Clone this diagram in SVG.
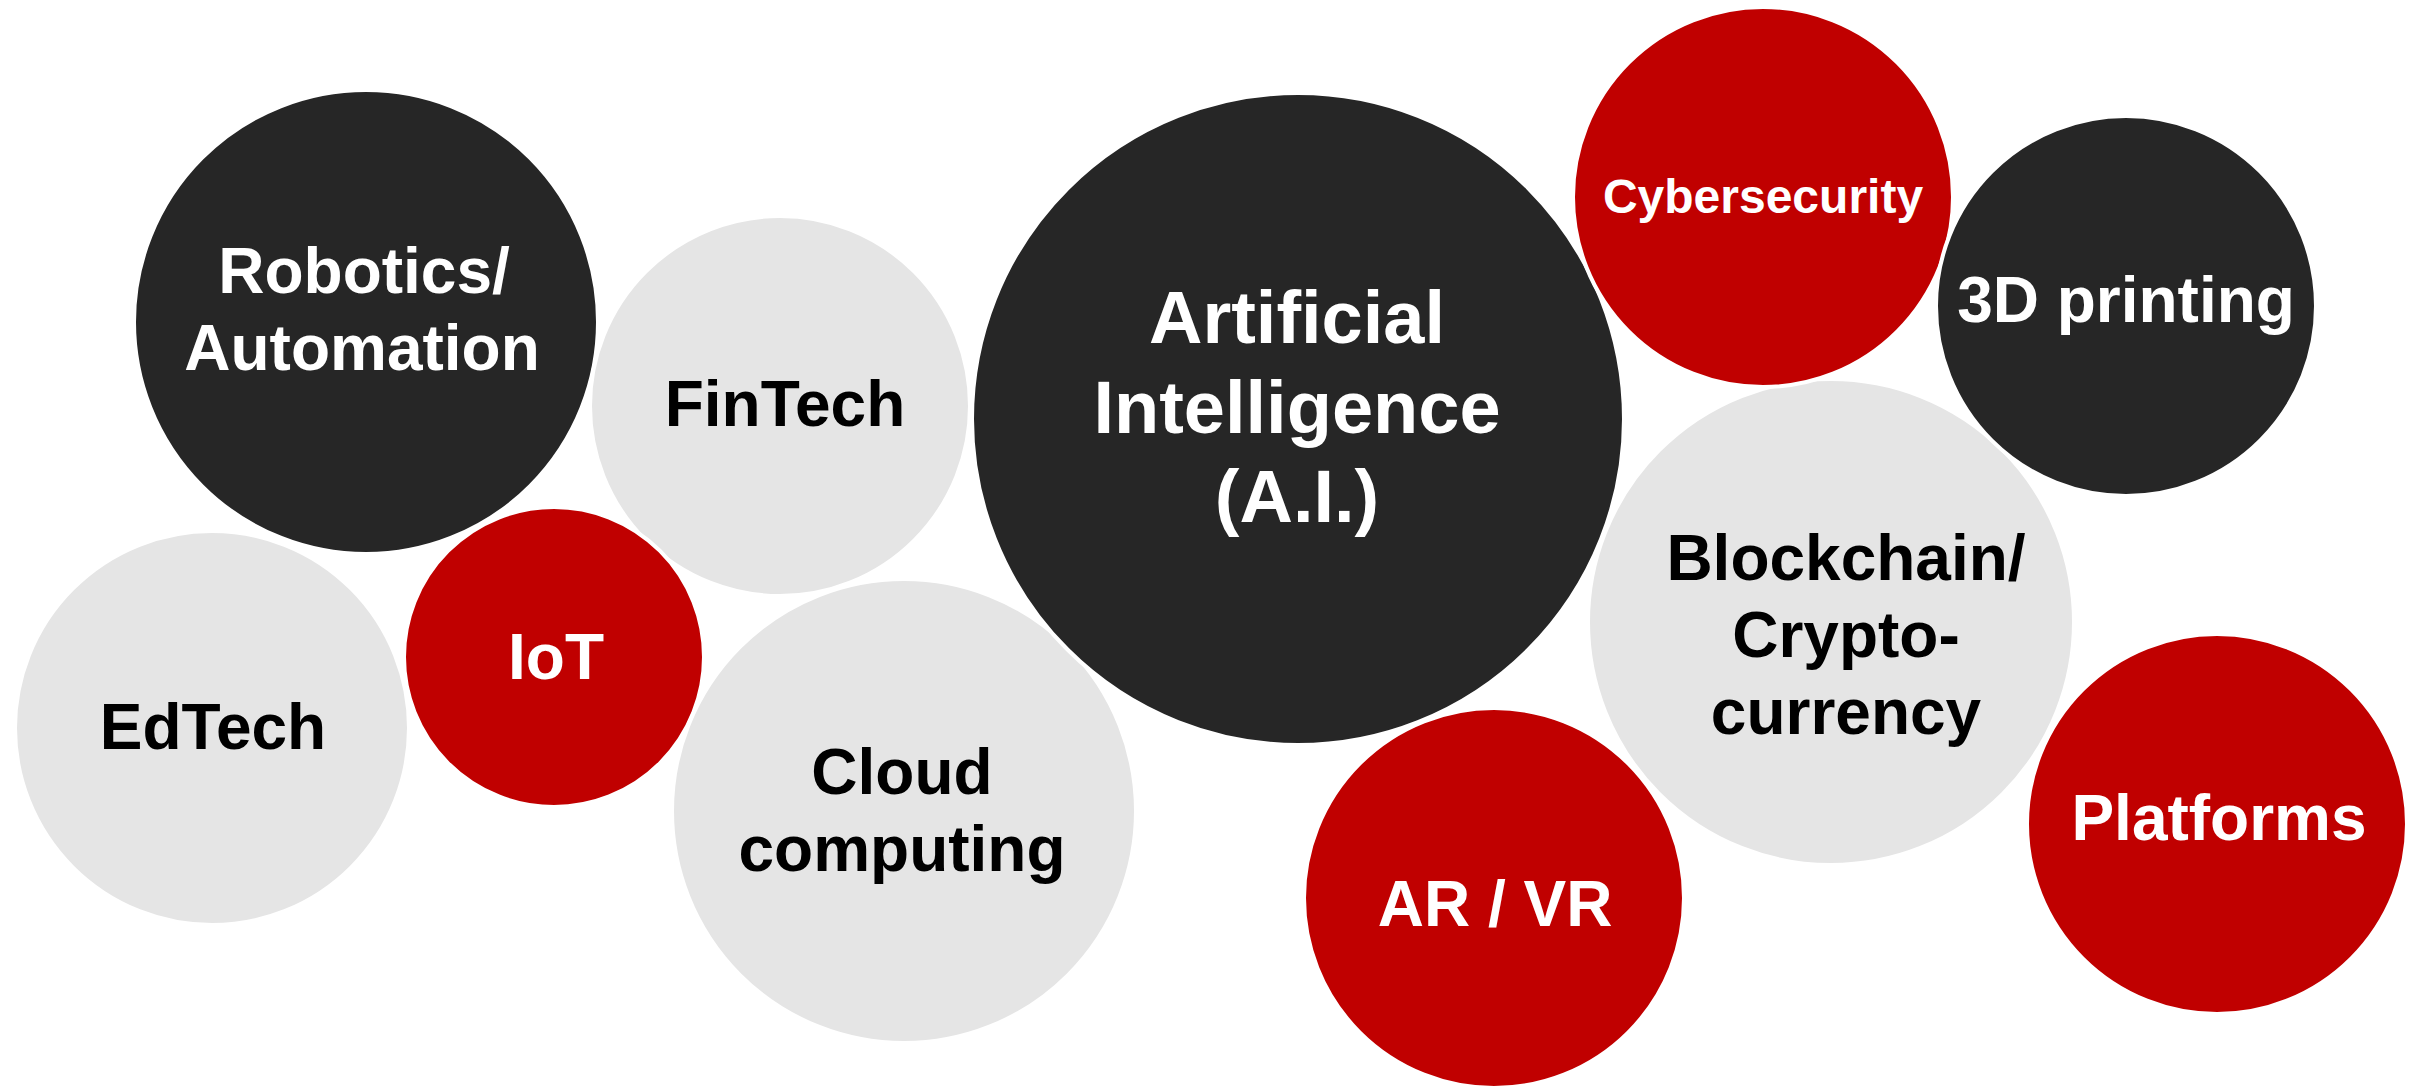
<svg xmlns="http://www.w3.org/2000/svg" width="2414" height="1087" viewBox="0 0 2414 1087">
<style>
.c{stroke:#ffffff;stroke-width:4}
.dk{fill:#262626}
.rd{fill:#c00000}
.gy{fill:#e5e5e5}
text{font-family:"Liberation Sans",Arial,sans-serif;font-weight:bold;text-anchor:middle;font-size:64px}
.w{fill:#ffffff}
.b{fill:#000000}
</style>
<rect width="2414" height="1087" fill="#ffffff"/>
<g id="connectors"/>
<g id="robotics"><circle class="c dk" cx="366" cy="322" r="232"/><text class="w" x="364" y="293">Robotics/</text><text class="w" x="362" y="370">Automation</text></g>
<g id="fintech"><circle class="c gy" cx="780" cy="406" r="190"/><text class="b" x="785" y="426">FinTech</text></g>
<g id="edtech"><circle class="c gy" cx="212" cy="728" r="197"/><text class="b" x="213" y="749">EdTech</text></g>
<g id="iot"><circle class="c rd" cx="554" cy="657" r="150"/><text class="w" x="556" y="679">IoT</text></g>
<g id="cloud"><circle class="c gy" cx="904" cy="811" r="232"/><text class="b" x="902" y="794">Cloud</text><text class="b" x="902" y="871">computing</text></g>
<g id="ai"><circle class="c dk" cx="1298" cy="419" r="326"/><text class="w" x="1297" y="343" style="font-size:74px">Artificial</text><text class="w" x="1297" y="433" style="font-size:74px">Intelligence</text><text class="w" x="1297" y="522" style="font-size:74px">(A.I.)</text></g>
<g id="blockchain"><circle class="c gy" cx="1831" cy="622" r="243"/><text class="b" x="1846" y="580">Blockchain/</text><text class="b" x="1846" y="657">Crypto-</text><text class="b" x="1846" y="734">currency</text></g>
<g id="cybersecurity"><circle class="c rd" cx="1763" cy="197" r="190"/><text class="w" x="1763" y="213" style="font-size:48px">Cybersecurity</text></g>
<g id="printing3d"><circle class="c dk" cx="2126" cy="306" r="190"/><text class="w" x="2126" y="322">3D printing</text></g>
<g id="arvr"><circle class="c rd" cx="1494" cy="898" r="190"/><text class="w" x="1495" y="926">AR / VR</text></g>
<g id="platforms"><circle class="c rd" cx="2217" cy="824" r="190"/><text class="w" x="2219" y="840">Platforms</text></g>
</svg>
